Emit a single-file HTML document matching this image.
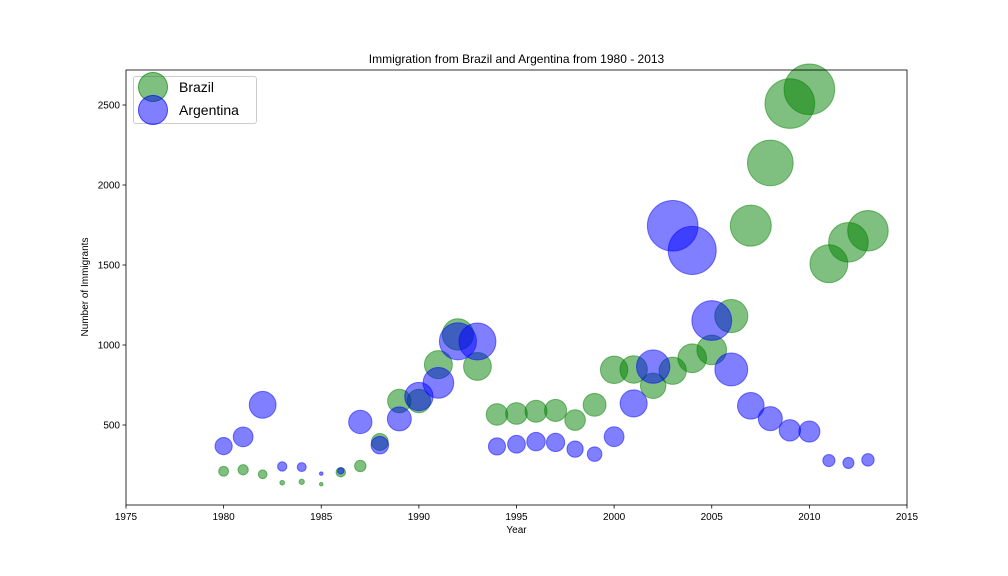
<!DOCTYPE html>
<html><head><meta charset="utf-8"><style>
body{margin:0;background:#fff;}
svg{display:block;font-family:"Liberation Sans","DejaVu Sans",sans-serif;}
</style></head><body>
<svg id="chart" width="1008" height="576"></svg>
<script>
const years=[1980,1981,1982,1983,1984,1985,1986,1987,1988,1989,1990,1991,1992,1993,1994,1995,1996,1997,1998,1999,2000,2001,2002,2003,2004,2005,2006,2007,2008,2009,2010,2011,2012,2013];
const brazil=[211,220,192,139,145,130,205,244,394,650,650,877,1066,866,566,572,586,591,531,626,845,847,745,839,917,969,1181,1746,2138,2509,2598,1508,1642,1714];
const argentina=[368,426,626,241,237,196,213,519,374,538,678,763,1023,1022,366,380,396,391,349,318,427,635,865,1745,1591,1153,847,620,540,467,459,278,263,282];
const xTicks=[1975,1980,1985,1990,1995,2000,2005,2010,2015];
const yTicks=[500,1000,1500,2000,2500];

const NS="http://www.w3.org/2000/svg";
const svg=document.getElementById('chart');
const L=126,R=907,T=70,B=505;
const xMin=1975,xMax=2015,yMin=0,yMax=2718.75;
const xs=v=>L+(v-xMin)/(xMax-xMin)*(R-L);
const ys=v=>B-(v-yMin)/(yMax-yMin)*(B-T);
function mk(tag,attrs,parent){const e=document.createElementNS(NS,tag);for(const k in attrs)e.setAttribute(k,attrs[k]);(parent||svg).appendChild(e);return e;}

function drawSeries(vals,color,name){
  const mn=Math.min(...vals),mx=Math.max(...vals);
  const g=mk('g',{});
  
  
  vals.forEach((v,i)=>{
    const s=(v-mn)/(mx-mn)*2000+10;
    const r=Math.sqrt(s/Math.PI);
    const c=mk('circle',{cx:xs(years[i]),cy:ys(v),r:r,fill:color,'fill-opacity':0.5,stroke:color,'stroke-opacity':0.5},g);
    
    
  });
}
drawSeries(brazil,'green','brazil');
drawSeries(argentina,'blue','argentina');

const frame=mk('rect',{x:L,y:T,width:R-L,height:B-T,fill:'none',stroke:'#000','stroke-width':0.8});



xTicks.forEach(t=>{
  const x=xs(t);
  mk('line',{x1:x,x2:x,y1:B,y2:B+3.5,stroke:'#000','stroke-width':0.8});
  const tx=mk('text',{x:x,y:B+15,'font-size':10,'text-anchor':'middle'});
  tx.textContent=t;
  
  
});
yTicks.forEach(t=>{
  const y=ys(t);
  mk('line',{x1:L-3.5,x2:L,y1:y,y2:y,stroke:'#000','stroke-width':0.8});
  const tx=mk('text',{x:L-6,y:y+3.5,'font-size':10,'text-anchor':'end'});
  tx.textContent=t;
  
  
});
</script>
<script>
(function(){
const NS="http://www.w3.org/2000/svg";const svg=document.getElementById('chart');
function t(x,y,s,txt,name,extra){const e=document.createElementNS(NS,'text');e.setAttribute('x',x);e.setAttribute('y',y);e.setAttribute('font-size',s);e.setAttribute('text-anchor','middle');if(extra)e.setAttribute('transform',extra);e.textContent=txt;


svg.appendChild(e);}
t(516.5,63,12,'Immigration from Brazil and Argentina from 1980 - 2013','chart-title');
t(516.5,533,10,'Year','x-axis-title');
t(88,287,10,'Number of Immigrants','y-axis-title','rotate(-90 88 287)');
})();
</script>
<svg width="0" height="0"></svg>
<div style="position:absolute;left:133px;top:76px;width:122px;height:46px;border:1px solid #ccc;border-radius:3px;background:rgba(255,255,255,0.8);font-family:'Liberation Sans',sans-serif;font-size:14px;">
  <div style="position:absolute;left:4px;top:-2px;height:24px;display:flex;align-items:center;">
    <span style="display:inline-block;width:30px;height:30px;border-radius:50%;background:rgba(0,128,0,0.5);border:1px solid rgba(0,128,0,0.5);box-sizing:border-box;"></span>
    <span style="margin-left:11px;">Brazil</span></div>
  <div style="position:absolute;left:4px;top:21px;height:24px;display:flex;align-items:center;">
    <span style="display:inline-block;width:30px;height:30px;border-radius:50%;background:rgba(0,0,255,0.5);border:1px solid rgba(0,0,255,0.5);box-sizing:border-box;"></span>
    <span style="margin-left:11px;">Argentina</span></div>
</div>
</body></html>
